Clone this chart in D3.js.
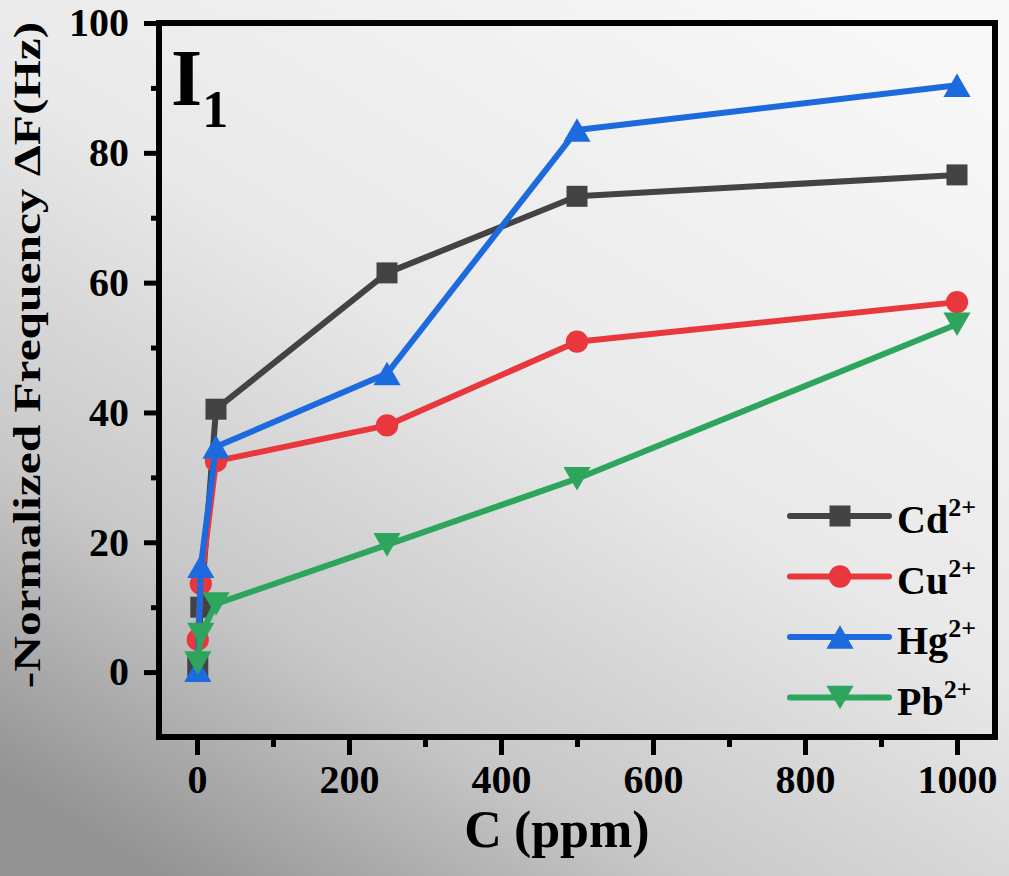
<!DOCTYPE html>
<html>
<head>
<meta charset="utf-8">
<script src="https://cdn.jsdelivr.net/npm/d3@7"></script>
<style>
  html, body { margin: 0; padding: 0; background: #ddd; }
  svg { display: block; }
  text { font-family: "Liberation Serif", "Times New Roman", serif; font-weight: bold; fill: #000; }
</style>
</head>
<body>
<svg id="chart" width="1009" height="876"></svg>
<script>
// Concentration (ppm)
const concentrations = [1, 5, 25, 250, 500, 1000];

// -Normalized frequency shift ΔF (Hz) for each ion
const cdValues = [1.0, 10.0, 40.5, 61.5, 73.3, 76.6];
const cuValues = [5.0, 13.6, 32.5, 38.0, 50.9, 57.0];
const hgValues = [0.3, 16.3, 34.7, 46.0, 83.5, 90.4];
const pbValues = [1.4, 5.8, 10.5, 19.6, 29.8, 53.6];

const seriesNames = ["Cd", "Cu", "Hg", "Pb"];
const seriesColors = ["#434343", "#e8383d", "#1c6ade", "#2ea55d"];
const seriesShapes = ["square", "circle", "triangleUp", "triangleDown"];

const xMajorTicks = [0, 200, 400, 600, 800, 1000];
const xMinorTicks = [100, 300, 500, 700, 900];
const yMajorTicks = [0, 20, 40, 60, 80, 100];
const yMinorTicks = [10, 30, 50, 70, 90];

const series = seriesNames.map((name, i) => ({
  name,
  color: seriesColors[i],
  shape: seriesShapes[i],
  values: [cdValues, cuValues, hgValues, pbValues][i].map((v, j) => ({ c: concentrations[j], v }))
}));

const svg = d3.select("#chart");
const W = 1009, H = 876;

// background wash
const defs = svg.append("defs");
const grad = defs.append("linearGradient").attr("id", "bg")
  .attr("x1", 0.85).attr("y1", 0).attr("x2", 0.15).attr("y2", 1);
grad.append("stop").attr("offset", 0).attr("stop-color", "#f8f8f8");
grad.append("stop").attr("offset", 0.45).attr("stop-color", "#e9e9e9");
grad.append("stop").attr("offset", 0.75).attr("stop-color", "#c8c8c8");
grad.append("stop").attr("offset", 1).attr("stop-color", "#929292");
svg.append("rect").attr("width", W).attr("height", H).attr("fill", "url(#bg)");

const x = d3.scaleLinear().domain([-50, 1050]).range([159, 995]);
const y = d3.scaleLinear().domain([-10, 100]).range([737, 23]);

// symbol types centred on their bounding box
const triUp = {
  draw(ctx, size) {
    const s = Math.sqrt(size * 4 / Math.sqrt(3));
    const h = s * Math.sqrt(3) / 2;
    ctx.moveTo(0, -h / 2); ctx.lineTo(s / 2, h / 2); ctx.lineTo(-s / 2, h / 2); ctx.closePath();
  }
};
const triDown = {
  draw(ctx, size) {
    const s = Math.sqrt(size * 4 / Math.sqrt(3));
    const h = s * Math.sqrt(3) / 2;
    ctx.moveTo(0, h / 2); ctx.lineTo(s / 2, -h / 2); ctx.lineTo(-s / 2, -h / 2); ctx.closePath();
  }
};
const symbolFor = {
  square: d3.symbol().type(d3.symbolSquare).size(441),
  circle: d3.symbol().type(d3.symbolCircle).size(390),
  triangleUp: d3.symbol().type(triUp).size(320),
  triangleDown: d3.symbol().type(triDown).size(320)
};

// axes
const yAxis = d3.axisLeft(y).tickValues(yMajorTicks).tickSize(15).tickPadding(15).tickFormat(d3.format("d"));
const yAxisMinor = d3.axisLeft(y).tickValues(yMinorTicks).tickSize(8).tickFormat("");
const xAxis = d3.axisBottom(x).tickValues(xMajorTicks).tickSize(18).tickPadding(10).tickFormat(d3.format("d"));
const xAxisMinor = d3.axisBottom(x).tickValues(xMinorTicks).tickSize(10).tickFormat("");

function styleAxis(g) {
  g.select(".domain").remove();
  g.selectAll(".tick line").attr("stroke", "#000").attr("stroke-width", 5);
  g.selectAll(".tick text").style("font-size", "40px").style("font-family", null).attr("fill", "#000");
}

svg.append("g").attr("transform", "translate(159,0)").call(yAxisMinor).call(styleAxis);
svg.append("g").attr("transform", "translate(159,0)").call(yAxis).call(styleAxis);
svg.append("g").attr("transform", "translate(0,737)").call(xAxisMinor).call(styleAxis);
svg.append("g").attr("transform", "translate(0,737)").call(xAxis).call(styleAxis);

// frame
svg.append("rect")
  .attr("x", x(-50)).attr("y", y(100))
  .attr("width", x(1050) - x(-50)).attr("height", y(-10) - y(100))
  .attr("fill", "none").attr("stroke", "#000").attr("stroke-width", 6)
  .attr("stroke-linejoin", "miter");

// series
const line = d3.line().x(d => x(d.c)).y(d => y(d.v));
series.forEach(s => {
  const g = svg.append("g");
  g.append("path").datum(s.values).attr("d", line)
    .attr("fill", "none").attr("stroke", s.color).attr("stroke-width", 6)
    .attr("stroke-linejoin", "round");
  g.selectAll("path.pt").data(s.values).join("path").attr("class", "pt")
    .attr("transform", d => `translate(${x(d.c)},${y(d.v)})`)
    .attr("d", symbolFor[s.shape]())
    .attr("fill", s.color);
});

// legend
const legend = svg.append("g");
series.forEach((s, i) => {
  const ly = 516 + i * 60.5;
  legend.append("line").attr("x1", 790).attr("x2", 889).attr("y1", ly).attr("y2", ly)
    .attr("stroke", s.color).attr("stroke-width", 6).attr("stroke-linecap", "round");
  legend.append("path").attr("transform", `translate(840,${ly})`)
    .attr("d", symbolFor[s.shape]()).attr("fill", s.color);
  const t = legend.append("text").attr("x", 897).attr("y", ly + 17).style("font-size", "40px");
  t.append("tspan").text(s.name);
  t.append("tspan").attr("dy", -17).style("font-size", "26px").text("2+");
});

// panel label
const lab = svg.append("text").attr("x", 171).attr("y", 105).style("font-size", "80px");
lab.append("tspan").text("I");
lab.append("tspan").attr("dy", 22).style("font-size", "52px").text("1");

// axis titles
const xt = svg.append("text").attr("x", 557).attr("y", 847).attr("text-anchor", "middle")
  .style("font-size", "52px");
xt.append("tspan").text("C");
xt.append("tspan").attr("dx", 12).text("(ppm)");
svg.append("text").attr("text-anchor", "middle")
  .attr("transform", "translate(40,355) rotate(-90) scale(1.3,1)")
  .style("font-size", "38px").text("-Normalized Frequency ΔF(Hz)");
</script>
</body>
</html>
